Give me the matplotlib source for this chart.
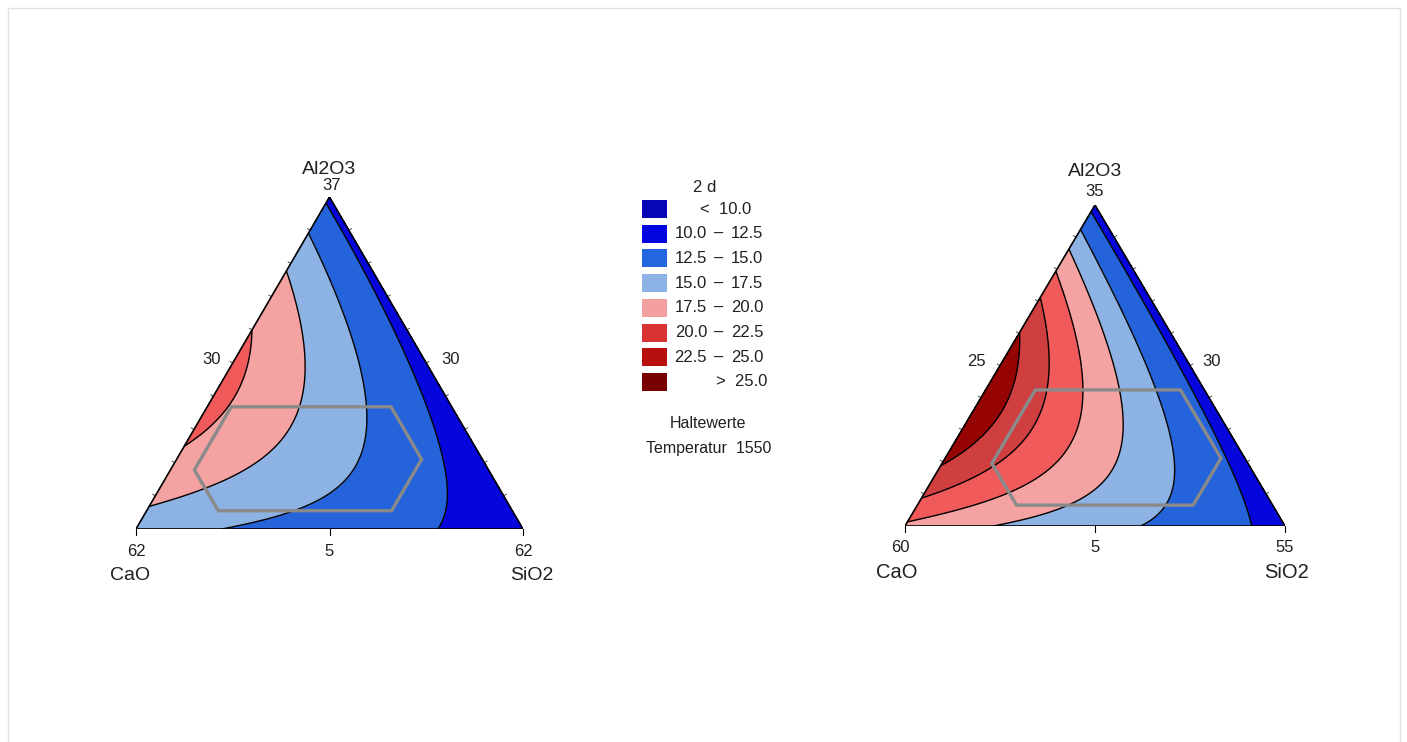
import numpy as np
import matplotlib.pyplot as plt
import matplotlib.tri as mtri
from matplotlib.patches import Rectangle, Polygon

plt.rcParams['font.family'] = ['Liberation Sans', 'DejaVu Sans']

# contour classes (days)
levels = [0.0, 10.0, 12.5, 15.0, 17.5, 20.0, 22.5, 25.0, 40.0]
lower_txt = ['', '10.0', '12.5', '15.0', '17.5', '20.0', '22.5', '']
upper_txt = ['10.0', '12.5', '15.0', '17.5', '20.0', '22.5', '25.0', '25.0']
fill_colors = ['#0606b4', '#0505dc', '#2463da', '#8cb3e4', '#f4a2a2',
               '#f05a5a', '#cf3f3f', '#960303']
legend_colors = ['#0606b4', '#0404e0', '#2466e0', '#8cb2e6', '#f4a0a0',
                 '#d93232', '#b80f0f', '#780000']

# points (pseudo components: SiO2, Al2O3; CaO = rest)
left_sio2 = [0.0, 1.0, 0.0, 0.5, 0.75, 0.25, 0.0,
             0.804, 0.726, 0.604, 0.47, 0.232, 0.0,
             0.0, 0.119, 0.24, 0.342, 0.393, 0.451, 0.45, 0.427, 0.37, 0.208,
             0.0, 0.115, 0.197, 0.245, 0.242, 0.173, 0.0,
             0.0, 0.042, 0.068, 0.056, 0.0]
left_al2o3 = [0.0, 0.0, 1.0, 0.5, 0.25, 0.75, 0.44,
              0.0, 0.169, 0.35, 0.5, 0.75, 0.97,
              0.886, 0.759, 0.62, 0.47, 0.38, 0.217, 0.139, 0.096, 0.057, 0.0,
              0.78, 0.62, 0.459, 0.319, 0.208, 0.139, 0.081,
              0.605, 0.509, 0.398, 0.319, 0.278]
left_days = [16.3, 10.8, 12.3, 11.3, 11.0, 11.7, 20.7,
             12.5, 12.5, 12.5, 12.5, 12.5, 12.5,
             15, 15, 15, 15, 15, 15, 15, 15, 15, 15,
             17.5, 17.5, 17.5, 17.5, 17.5, 17.5, 17.5,
             20, 20, 20, 20, 20]

right_sio2 = [0.0, 1.0, 0.0, 0.5, 0.75, 0.25, 0.0,
              0.943, 0.755, 0.56, 0.365, 0.17,
              0.0, 0.121, 0.321, 0.474, 0.567, 0.611, 0.606, 0.61,
              0.0, 0.095, 0.261, 0.398, 0.464, 0.457, 0.294,
              0.0, 0.069, 0.182, 0.277, 0.296, 0.238, 0.127, 0.0,
              0.0, 0.082, 0.156, 0.184, 0.141, 0.046, 0.0,
              0.0, 0.084, 0.104, 0.074, 0.0]
right_al2o3 = [0.0, 0.0, 1.0, 0.5, 0.25, 0.75, 0.41,
               0.0, 0.2, 0.4, 0.6, 0.8,
               0.913, 0.788, 0.601, 0.424, 0.268, 0.134, 0.04, 0.0,
               0.85, 0.735, 0.548, 0.34, 0.184, 0.059, 0.0,
               0.791, 0.704, 0.548, 0.361, 0.237, 0.143, 0.072, 0.019,
               0.726, 0.589, 0.445, 0.321, 0.215, 0.143, 0.09,
               0.617, 0.445, 0.34, 0.259, 0.196]
right_days = [20.2, 11.3, 12.3, 11.5, 11.4, 11.8, 26.9,
              12.5, 12.5, 12.5, 12.5, 12.5,
              15, 15, 15, 15, 15, 15, 15, 15,
              17.5, 17.5, 17.5, 17.5, 17.5, 17.5, 17.5,
              20, 20, 20, 20, 20, 20, 20, 20,
              22.5, 22.5, 22.5, 22.5, 22.5, 22.5, 22.5,
              25, 25, 25, 25, 25]

# design region bounds (CaO, SiO2, Al2O3 pseudo fractions)
left_bounds = [(0.157, 0.76), (0.062, 0.633), (0.055, 0.368)]
right_bounds = [(0.063, 0.674), (0.131, 0.726), (0.065, 0.424)]

H = np.sqrt(3) / 2


def terms(a, b, c):
    return np.column_stack([a, b, c, a * b, a * c, b * c,
                            a * b * (a - b), a * c * (a - c), b * c * (b - c), a * b * c])


def xy(b, c):
    return np.asarray(b) + np.asarray(c) / 2, np.asarray(c) * H


def hexagon(bounds):
    (alo, ahi), (blo, bhi), (clo, chi) = bounds
    pts = [(1 - chi - blo, blo, chi), (alo, 1 - chi - alo, chi), (alo, bhi, 1 - alo - bhi),
           (1 - bhi - clo, bhi, clo), (ahi, 1 - ahi - clo, clo), (ahi, blo, 1 - ahi - blo)]
    return [xy(p[1], p[2]) for p in pts]


def ternary(ax, sio2, al2o3, days, bounds):
    b = np.array(sio2)
    c = np.array(al2o3)
    coef = np.linalg.lstsq(terms(1 - b - c, b, c), np.array(days), rcond=None)[0]

    n = 150
    gb, gc = [], []
    for i in range(n + 1):
        for j in range(n + 1 - i):
            gb.append(i / n)
            gc.append(j / n)
    gb, gc = np.array(gb), np.array(gc)
    z = terms(1 - gb - gc, gb, gc) @ coef
    gx, gy = xy(gb, gc)
    tri = mtri.Triangulation(gx, gy)
    ax.tricontourf(tri, z, levels=levels, colors=fill_colors)
    ax.tricontour(tri, z, levels=levels[1:-1], colors='black', linewidths=1.0)

    ax.add_patch(Polygon([(0, 0), (1, 0), (0.5, H)], closed=True, fill=False,
                         ec='black', lw=1.2, zorder=5))
    ax.add_patch(Polygon(hexagon(bounds), closed=True, fill=False,
                         ec='#8a8a8a', lw=2.4, zorder=6))

    # small edge ticks
    for t in np.arange(0.1, 0.95, 0.1):
        x0, y0 = xy(0, t)
        ax.plot([x0, x0 - 0.007], [y0, y0 + 0.004], color='#333333', lw=0.6, clip_on=False)
        x1, y1 = xy(1 - t, t)
        ax.plot([x1, x1 + 0.007], [y1, y1 + 0.004], color='#333333', lw=0.6, clip_on=False)
    for x in [0, 0.5, 1]:
        ax.plot([x, x], [0, -0.016], color='black', lw=0.8, clip_on=False)

    ax.set_xlim(0, 1)
    ax.set_ylim(0, H)
    ax.axis('off')


def label(ax, text, pos, off, size):
    ax.annotate(text, xy=pos, xytext=off, textcoords='offset points',
                ha='center', va='center', fontsize=size, color='#202020')


fig = plt.figure(figsize=(14.07, 7.42), dpi=100)

bg = fig.add_axes([0, 0, 1, 1])
bg.set_xlim(0, 1407)
bg.set_ylim(742, 0)
bg.axis('off')
bg.add_patch(Rectangle((8, 8), 1392, 760, fill=False, ec='#e2e2e2', lw=1.0))

ax1 = fig.add_axes([136 / 1407, 213 / 742, 387 / 1407, 332 / 742])
ternary(ax1, left_sio2, left_al2o3, left_days, left_bounds)
ax2 = fig.add_axes([905 / 1407, 216 / 742, 380 / 1407, 321 / 742])
ternary(ax2, right_sio2, right_al2o3, right_days, right_bounds)

k = 0.72
label(ax1, 'Al2O3', (0.5, H), (0, 28 * k), 14)
label(ax1, '37', (0.5, H), (2 * k, 11 * k), 12)
label(ax1, '30', xy(0, 0.5), (-21 * k, 3 * k), 12)
label(ax1, '30', xy(0.5, 0.5), (24 * k, 3 * k), 12)
label(ax1, '62', (0, 0), (0, -22 * k), 12)
label(ax1, '5', (0.5, 0), (0, -22 * k), 12)
label(ax1, '62', (1, 0), (0, -22 * k), 12)
label(ax1, 'CaO', (0, 0), (-6 * k, -47 * k), 14)
label(ax1, 'SiO2', (1, 0), (9 * k, -47 * k), 14)

label(ax2, 'Al2O3', (0.5, H), (0, 33 * k), 14)
label(ax2, '35', (0.5, H), (0, 13 * k), 12)
label(ax2, '25', xy(0, 0.514), (-26 * k, 0), 12)
label(ax2, '30', xy(0.486, 0.514), (24 * k, 0), 12)
label(ax2, '60', (0, 0), (-5 * k, -22 * k), 12)
label(ax2, '5', (0.5, 0), (0, -21 * k), 12)
label(ax2, '55', (1, 0), (0, -22 * k), 12)
label(ax2, 'CaO', (0, 0), (-8 * k, -46 * k), 14.5)
label(ax2, 'SiO2', (1, 0), (2 * k, -46 * k), 14.5)

# legend
bg.text(705, 188, '2 d', ha='center', va='center', fontsize=12, color='#202020')
for i in range(len(fill_colors)):
    yc = 209 + 24.7 * i
    bg.add_patch(Rectangle((642, yc - 9), 25, 18, fc=legend_colors[i], ec='none'))
    if i == 0:
        bg.text(700, yc, '<  ' + upper_txt[i], ha='left', va='center', fontsize=12, color='#202020')
    elif i == len(fill_colors) - 1:
        bg.text(716, yc, '>  ' + upper_txt[i], ha='left', va='center', fontsize=12, color='#202020')
    else:
        bg.text(707, yc, lower_txt[i], ha='right', va='center', fontsize=12, color='#202020')
        bg.text(719, yc, '–', ha='center', va='center', fontsize=12, color='#202020')
        bg.text(731, yc, upper_txt[i], ha='left', va='center', fontsize=12, color='#202020')
bg.text(708, 423, 'Haltewerte', ha='center', va='center', fontsize=11.5, color='#202020')
bg.text(709, 448, 'Temperatur  1550', ha='center', va='center', fontsize=11.5, color='#202020')

fig.savefig('out.png', dpi=100)
